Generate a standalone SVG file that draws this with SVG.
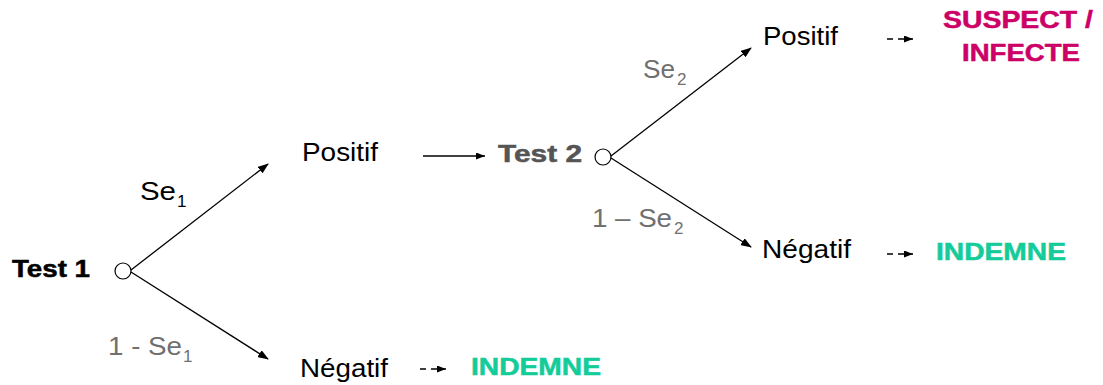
<svg xmlns="http://www.w3.org/2000/svg" width="1103" height="385" viewBox="0 0 1103 385">
<defs>
<marker id="ah" markerWidth="11" markerHeight="8" refX="10" refY="4" orient="auto" markerUnits="userSpaceOnUse">
<path d="M0,0 L11,4 L0,8 Z" fill="#000"/>
</marker>
<marker id="ahs" markerWidth="9" markerHeight="7" refX="9" refY="3.5" orient="auto" markerUnits="userSpaceOnUse">
<path d="M0,0 L9,3.5 L0,7 Z" fill="#000"/>
</marker>
</defs>
<style>
text{font-family:"Liberation Sans",Arial,sans-serif;font-size:26px;fill:#000}
.b{font-weight:bold;font-size:23px;stroke:#000;stroke-width:0.5}
.g{fill:#707070}
.t2{fill:#555;stroke:#555}
.m{fill:#cc0066;stroke:#cc0066}
.gr{fill:#14cc99;stroke:#14cc99}
.sub{font-size:17px}
.ln{stroke:#000;stroke-width:1.3;fill:none}
.ds{stroke:#000;stroke-width:1.6;stroke-dasharray:6,5;fill:none}
.c{fill:#fff;stroke:#000;stroke-width:1.2}
</style>
<rect width="1103" height="385" fill="#fff"/>
<g id="connectors">
<line class="ln" x1="131" y1="270" x2="268" y2="164" marker-end="url(#ah)"/>
<line class="ln" x1="131" y1="272" x2="268" y2="359" marker-end="url(#ah)"/>
<line class="ln" x1="423" y1="156" x2="485" y2="156" marker-end="url(#ahs)"/>
<line class="ln" x1="611" y1="156" x2="751" y2="48" marker-end="url(#ah)"/>
<line class="ln" x1="611" y1="158" x2="751" y2="247" marker-end="url(#ah)"/>
<line class="ds" x1="887" y1="39" x2="913" y2="39" marker-end="url(#ahs)"/>
<line class="ds" x1="887" y1="254" x2="913" y2="254" marker-end="url(#ahs)"/>
<line class="ds" x1="420" y1="369" x2="446" y2="369" marker-end="url(#ahs)"/>
</g>
<g id="test1">
<text class="b" x="12" y="277" textLength="78" lengthAdjust="spacingAndGlyphs">Test 1</text>
<circle class="c" cx="123" cy="271" r="8"/>
</g>
<g id="label-se1"><text x="140" y="200" textLength="36" lengthAdjust="spacingAndGlyphs">Se</text><text class="sub" x="177" y="207">1</text></g>
<g id="label-1se1"><text class="g" x="108" y="355" textLength="74" lengthAdjust="spacingAndGlyphs">1 - Se</text><text class="g sub" x="183" y="362">1</text></g>
<g id="positif1"><text x="302" y="161" textLength="76" lengthAdjust="spacingAndGlyphs">Positif</text></g>
<g id="test2">
<text class="b t2" x="498" y="162" textLength="84" lengthAdjust="spacingAndGlyphs">Test 2</text>
<circle class="c" cx="603" cy="157" r="8"/>
</g>
<g id="negatif1"><text x="300" y="377" textLength="88" lengthAdjust="spacingAndGlyphs">Négatif</text></g>
<g id="indemne1"><text class="b gr" x="471" y="375" textLength="130" lengthAdjust="spacingAndGlyphs">INDEMNE</text></g>
<g id="label-se2"><text class="g" x="643" y="78" textLength="32" lengthAdjust="spacingAndGlyphs">Se</text><text class="g sub" x="677" y="85">2</text></g>
<g id="label-1se2"><text class="g" x="592" y="227" textLength="80" lengthAdjust="spacingAndGlyphs">1 – Se</text><text class="g sub" x="674" y="234">2</text></g>
<g id="positif2"><text x="763" y="45" textLength="75" lengthAdjust="spacingAndGlyphs">Positif</text></g>
<g id="suspect"><text class="b m" x="943" y="28" textLength="150" lengthAdjust="spacingAndGlyphs">SUSPECT /</text><text class="b m" x="962" y="61" textLength="118" lengthAdjust="spacingAndGlyphs">INFECTE</text></g>
<g id="negatif2"><text x="762" y="258" textLength="89" lengthAdjust="spacingAndGlyphs">Négatif</text></g>
<g id="indemne2"><text class="b gr" x="936" y="260" textLength="130" lengthAdjust="spacingAndGlyphs">INDEMNE</text></g>
</svg>
